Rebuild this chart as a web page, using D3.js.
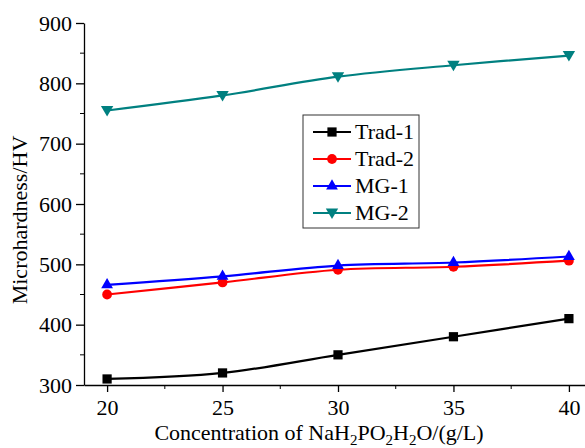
<!DOCTYPE html>
<html>
<head>
<meta charset="utf-8">
<script src="https://cdn.jsdelivr.net/npm/d3@7"></script>
<style>
body { margin: 0; background: #fff; }
</style>
</head>
<body>
<script>
// data
var conc = [20, 25, 30, 35, 40];
var trad1 = [310, 320, 350, 380, 410];
var trad2 = [450, 470, 491, 496, 506];
var mg1 = [466, 480, 498, 503, 513];
var mg2 = [755, 780, 811, 830, 846];
var seriesNames = ["Trad-1", "Trad-2", "MG-1", "MG-2"];
var xTicks = [20, 25, 30, 35, 40];
var yTicks = [300, 400, 500, 600, 700, 800, 900];

var FONT = "'Liberation Serif', 'Times New Roman', Times, serif";

var series = [
    {name: seriesNames[0], values: trad1, color: "#000000", shape: d3.symbolSquare},
    {name: seriesNames[1], values: trad2, color: "#ff0000", shape: d3.symbolCircle},
    {name: seriesNames[2], values: mg1, color: "#0000ff", shape: d3.symbolTriangle},
    {name: seriesNames[3], values: mg2, color: "#008080", shape: "down"}
];

var W = 585, H = 448;
var svg = d3.select("body").append("svg")
    .attr("width", W)
    .attr("height", H)
    .attr("font-family", FONT);

var x = d3.scaleLinear().domain([19, 41]).range([84, 592]);
var y = d3.scaleLinear().domain([300, 900]).range([385, 23]);

// minor ticks
var xMinor = [22.5, 27.5, 32.5, 37.5];
var yMinor = [350, 450, 550, 650, 750, 850];

var xAxis = svg.append("g")
    .attr("transform", "translate(0," + y(300) + ")")
    .call(d3.axisBottom(x).tickValues(xTicks).tickSize(7).tickSizeOuter(0).tickPadding(5));
xAxis.append("g").selectAll("line").data(xMinor).enter().append("line")
    .attr("x1", function(d) { return x(d); })
    .attr("x2", function(d) { return x(d); })
    .attr("y1", 0).attr("y2", 4)
    .attr("stroke", "#000");

var yAxis = svg.append("g")
    .attr("transform", "translate(" + x(19) + ",0)")
    .call(d3.axisLeft(y).tickValues(yTicks).tickSize(8).tickSizeOuter(0).tickPadding(4));
yAxis.append("g").selectAll("line").data(yMinor).enter().append("line")
    .attr("y1", function(d) { return y(d); })
    .attr("y2", function(d) { return y(d); })
    .attr("x1", 0).attr("x2", -4)
    .attr("stroke", "#000");

[xAxis, yAxis].forEach(function(g) {
    g.attr("font-family", FONT).attr("font-size", 22);
});
svg.selectAll(".domain").attr("stroke", "#000").attr("stroke-width", 1.3);
svg.selectAll(".tick line").attr("stroke", "#000").attr("stroke-width", 1.3);
svg.selectAll(".tick text").attr("fill", "#000");
xAxis.selectAll(".tick text").attr("dy", "0.8em");

// axis titles
var xt = svg.append("text")
    .attr("x", 319)
    .attr("y", 440)
    .attr("text-anchor", "middle")
    .attr("font-size", 22);
xt.append("tspan").text("Concentration of NaH");
xt.append("tspan").text("2").attr("dy", 5).attr("font-size", 15);
xt.append("tspan").text("PO").attr("dy", -5);
xt.append("tspan").text("2").attr("dy", 5).attr("font-size", 15);
xt.append("tspan").text("H").attr("dy", -5);
xt.append("tspan").text("2").attr("dy", 5).attr("font-size", 15);
xt.append("tspan").text("O/(g/L)").attr("dy", -5);

svg.append("text")
    .attr("transform", "translate(27,220) rotate(-90)")
    .attr("text-anchor", "middle")
    .attr("font-size", 22)
    .text("Microhardness/HV");

function marker(shape, size) {
    if (shape === "down") {
        return "M" + (-size * 0.62) + "," + (-size * 0.45) + "L" + (size * 0.62) + "," + (-size * 0.45) + "L0," + (size * 0.6) + "Z";
    }
    var area = shape === d3.symbolSquare ? size * size * 0.85 :
               shape === d3.symbolCircle ? size * size * 0.75 : size * size * 0.6;
    return d3.symbol().type(shape).size(area)();
}

var line = d3.line()
    .x(function(d, i) { return x(conc[i]); })
    .y(function(d) { return y(d); })
    .curve(d3.curveCatmullRom.alpha(0.5));

series.forEach(function(s) {
    svg.append("path")
        .attr("d", line(s.values))
        .attr("fill", "none")
        .attr("stroke", s.color)
        .attr("stroke-width", 2.2);
    svg.selectAll(null).data(s.values).enter().append("path")
        .attr("transform", function(d, i) { return "translate(" + x(conc[i]) + "," + y(d) + ")"; })
        .attr("d", marker(s.shape, 10))
        .attr("fill", s.color);
});

// legend
var leg = svg.append("g").attr("transform", "translate(303,115)");
leg.append("rect")
    .attr("width", 116).attr("height", 113)
    .attr("fill", "#fff")
    .attr("stroke", "#333")
    .attr("stroke-width", 1);
series.forEach(function(s, i) {
    var ly = 17 + i * 27;
    leg.append("line")
        .attr("x1", 10).attr("x2", 48)
        .attr("y1", ly).attr("y2", ly)
        .attr("stroke", s.color).attr("stroke-width", 2.2);
    leg.append("path")
        .attr("transform", "translate(29," + ly + ")")
        .attr("d", marker(s.shape, 10))
        .attr("fill", s.color);
    leg.append("text")
        .attr("x", 52).attr("y", ly + 7)
        .attr("font-size", 22)
        .text(s.name);
});
</script>
</body>
</html>
